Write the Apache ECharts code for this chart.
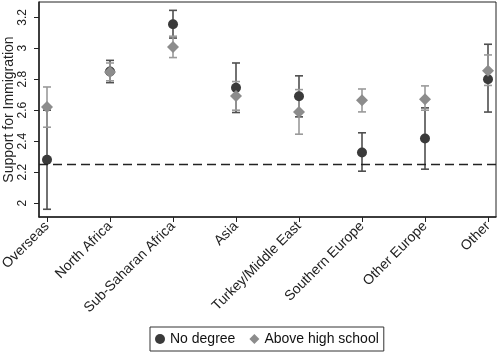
<!DOCTYPE html>
<html>
<head>
<meta charset="utf-8">
<script src="https://cdn.jsdelivr.net/npm/echarts@6/dist/echarts.min.js"></script>
<style>
html,body{margin:0;padding:0;background:#fff;}
#chart{width:500px;height:355px;}
</style>
</head>
<body>
<div id="chart"></div>
<script>
var categories = ['Overseas','North Africa','Sub-Saharan Africa','Asia','Turkey/Middle East','Southern Europe','Other Europe','Other'];
var noDegree      = [2.28, 2.85, 3.155, 2.745, 2.69, 2.327, 2.417, 2.80];
var noDegreeLow   = [1.96, 2.778, 3.066, 2.585, 2.557, 2.206, 2.219, 2.588];
var noDegreeHigh  = [2.60, 2.922, 3.245, 2.905, 2.822, 2.454, 2.615, 3.026];
var aboveHS       = [2.62, 2.847, 3.008, 2.692, 2.589, 2.665, 2.671, 2.855];
var aboveHSLow    = [2.49, 2.79, 2.94, 2.60, 2.445, 2.589, 2.60, 2.76];
var aboveHSHigh   = [2.75, 2.905, 3.078, 2.785, 2.733, 2.737, 2.757, 2.957];
var yTicks = [2, 2.2, 2.4, 2.6, 2.8, 3, 3.2];
var referenceLine = 2.25;

var xIdx = categories.map(function(c,i){return i+1;});
var FONT = 'Liberation Sans, Arial, sans-serif';

function errData(low, high){
  return xIdx.map(function(x,i){return [x, low[i], high[i]];});
}
function errRender(color){
  return function(params, api){
    var x = api.value(0);
    var lo = api.coord([x, api.value(1)]);
    var hi = api.coord([x, api.value(2)]);
    var cap = 4;
    var st = {stroke: color, lineWidth: 1.6};
    return {type:'group', children:[
      {type:'line', shape:{x1:lo[0],y1:lo[1],x2:hi[0],y2:hi[1]}, style:st},
      {type:'line', shape:{x1:lo[0]-cap,y1:lo[1],x2:lo[0]+cap,y2:lo[1]}, style:st},
      {type:'line', shape:{x1:hi[0]-cap,y1:hi[1],x2:hi[0]+cap,y2:hi[1]}, style:st}
    ]};
  };
}

var chart = echarts.init(document.getElementById('chart'), null, {renderer:'canvas'});
chart.setOption({
  animation:false,
  textStyle:{fontFamily:FONT},
  grid:{left:39, top:2, right:4, bottom:138, show:true, borderColor:'#222', borderWidth:1,
        containLabel:false, outerBoundsMode:'none'},
  legend:{
    data:['No degree','Above high school'],
    top:327, left:150,
    orient:'horizontal',
    borderColor:'#333', borderWidth:1, borderRadius:0,
    padding:[5,5,5,5],
    itemWidth:10, itemHeight:10, itemGap:14,
    textStyle:{fontFamily:FONT, fontSize:14, color:'#111'}
  },
  xAxis:{
    type:'value', min:0.873, max:8.127,
    splitLine:{show:false},
    axisLine:{show:true, onZero:false, lineStyle:{color:'#222', width:1.5}},
    axisTick:{show:true, customValues:xIdx, length:5, lineStyle:{color:'#222'}},
    axisLabel:{customValues:xIdx, rotate:45, margin:7, fontSize:14, color:'#222', fontFamily:FONT,
      formatter:function(v){return categories[Math.round(v)-1] || '';}}
  },
  yAxis:{
    type:'value', min:1.91, max:3.299,
    name:'Support for Immigration', nameLocation:'middle', nameGap:23, nameMoveOverlap:false,
    nameTextStyle:{fontSize:14, color:'#222', fontFamily:FONT},
    splitLine:{show:false},
    axisLine:{show:true, onZero:false, lineStyle:{color:'#222', width:1.5}},
    axisTick:{show:true, customValues:yTicks, length:5, lineStyle:{color:'#222'}},
    axisLabel:{customValues:yTicks, rotate:90, margin:10, fontSize:12, color:'#222', fontFamily:FONT,
      formatter:function(v){return String(Math.round(v*10)/10);}}
  },
  series:[
    {type:'custom', name:'noDegErr', renderItem:errRender('#4f4f4f'), data:errData(noDegreeLow,noDegreeHigh), z:2,
      encode:{x:0, y:[1,2]}, silent:true,
      markLine:{silent:true, symbol:'none', label:{show:false},
        lineStyle:{color:'#222', type:[9,5], width:1.4},
        data:[{yAxis:referenceLine}]}},
    {type:'custom', name:'hsErr', renderItem:errRender('#9a9a9a'), data:errData(aboveHSLow,aboveHSHigh), z:2,
      encode:{x:0, y:[1,2]}, silent:true},
    {type:'scatter', name:'No degree', symbol:'circle', symbolSize:10, z:3,
      itemStyle:{color:'#3a3a3a', opacity:1},
      data:xIdx.map(function(x,i){return [x, noDegree[i]];})},
    {type:'scatter', name:'Above high school', symbol:'diamond', symbolSize:[12,12], z:4,
      itemStyle:{color:'#8c8c8c', opacity:1},
      data:xIdx.map(function(x,i){return [x, aboveHS[i]];})}
  ]
});
</script>
</body>
</html>
